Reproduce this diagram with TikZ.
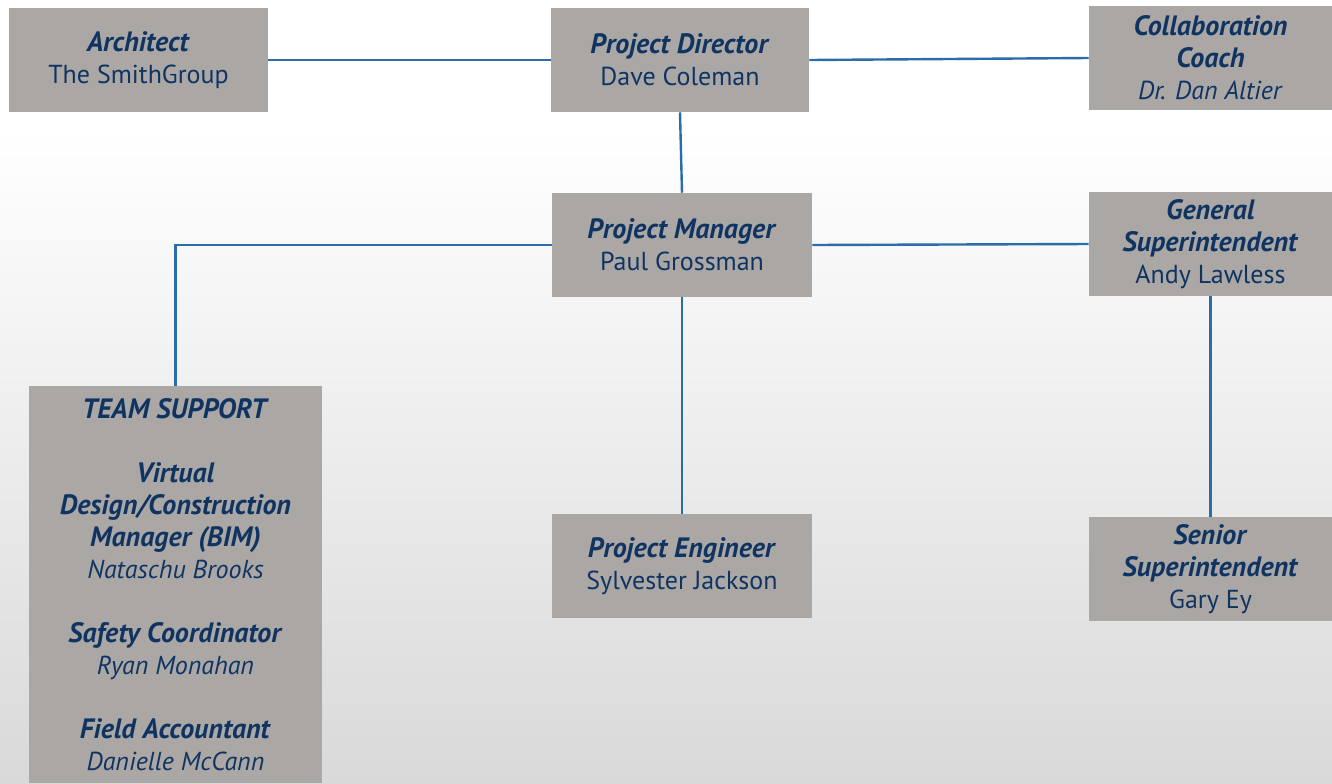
\documentclass[tikz,border=0pt]{standalone}
\usepackage{fontspec}
\setmainfont{PT Sans}
\definecolor{boxgray}{HTML}{ABA7A5}
\definecolor{navy}{HTML}{0F3462}
\definecolor{linkblue}{HTML}{2B6DAA}
\definecolor{bggray}{HTML}{D9D9D9}
\newcommand{\role}[1]{{\fontsize{21}{24}\selectfont\textbf{\textit{#1}}}}
\begin{document}
\begin{tikzpicture}[x=0.75pt,y=-0.75pt,
    orgbox/.style={rectangle, fill=boxgray, inner sep=0pt, align=center,
        text=navy, font=\fontsize{19.5}{24}\selectfont},
    boxsize/.style 2 args={minimum width=#1*0.75pt, minimum height=#2*0.75pt},
    link/.style={linkblue, line width=1.8pt}]
    % Hintergrund
    \useasboundingbox (0,0) rectangle (1332,783);
    \fill[white] (0,0) rectangle (1332,130);
    \shade[top color=white, bottom color=bggray] (0,130) rectangle (1332,783);

    % Kästen
    \node[orgbox, boxsize={259}{104}] (arch) at (138.5,60)
        {\role{Architect}\\The SmithGroup};
    \node[orgbox, boxsize={258}{104}] (dir) at (680,60)
        {\role{Project Director}\\Dave Coleman};
    \node[orgbox, boxsize={243}{104}] (coach) at (1210.5,58)
        {\role{Collaboration}\\\role{Coach}\\\textit{Dr. Dan Altier}};
    \node[orgbox, boxsize={260}{104}] (pm) at (682,245)
        {\role{Project Manager}\\Paul Grossman};
    \node[orgbox, boxsize={243}{104}] (gsup) at (1210.5,244)
        {\role{General}\\\role{Superintendent}\\Andy Lawless};
    \node[orgbox, boxsize={293}{397}] (tsup) at (175.5,584.5)
        {\role{TEAM SUPPORT}\\[24pt]
         \role{Virtual}\\\role{Design/Construction}\\\role{Manager (BIM)}\\\textit{Nataschu Brooks}\\[24pt]
         \role{Safety Coordinator}\\\textit{Ryan Monahan}\\[24pt]
         \role{Field Accountant}\\\textit{Danielle McCann}};
    \node[orgbox, boxsize={260}{104}] (peng) at (682,566)
        {\role{Project Engineer}\\Sylvester Jackson};
    \node[orgbox, boxsize={243}{104}] (ssup) at (1210.5,569)
        {\role{Senior}\\\role{Superintendent}\\Gary Ey};

    % Verbindungen
    \draw[link] (arch.east) -- (dir.west);
    \draw[link] (dir.east) -- (coach.west);
    \draw[link] (dir.south) -- (pm.north);
    \draw[link] (pm.east) -- (gsup.west);
    \draw[link] (pm.west) -| (tsup.north);
    \draw[link] (pm.south) -- (peng.north);
    \draw[link] (gsup.south) -- (ssup.north);
\end{tikzpicture}
\end{document}
